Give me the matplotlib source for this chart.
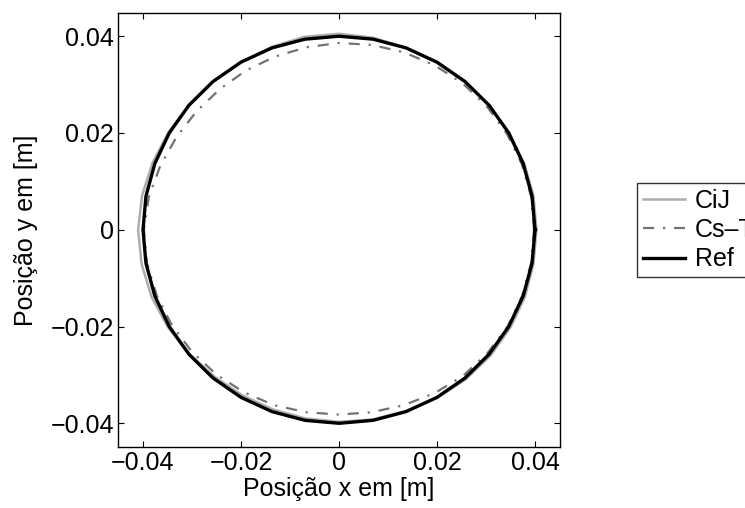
import matplotlib.pyplot as plt
import numpy as np

plt.rcParams["font.family"] = ["Liberation Sans", "DejaVu Sans"]

angle_deg = [0, 10, 20, 30, 40, 50, 60, 70, 80, 90, 100, 110,
             120, 130, 140, 150, 160, 170, 180, 190, 200, 210, 220, 230,
             240, 250, 260, 270, 280, 290, 300, 310, 320, 330, 340, 350]

# radius of each trajectory at those angles [m]
r_cij = [0.0403, 0.0403, 0.0402, 0.0401, 0.0400, 0.0399, 0.0399, 0.0400,
         0.0403, 0.0405, 0.0405, 0.0402, 0.0400, 0.0400, 0.0400, 0.0402,
         0.0405, 0.0408, 0.0410, 0.0409, 0.0407, 0.0403, 0.0399, 0.0396,
         0.0395, 0.0395, 0.0396, 0.0397, 0.0398, 0.0399, 0.0401, 0.0403,
         0.0404, 0.0404, 0.0404, 0.0403]
r_cst = [0.0398, 0.0398, 0.0397, 0.0396, 0.0395, 0.0394, 0.0392, 0.0390,
         0.0388, 0.0386, 0.0383, 0.0381, 0.0380, 0.0379, 0.0380, 0.0383,
         0.0388, 0.0394, 0.0398, 0.0398, 0.0396, 0.0394, 0.0392, 0.0390,
         0.0388, 0.0386, 0.0383, 0.0382, 0.0383, 0.0386, 0.0390, 0.0394,
         0.0396, 0.0398, 0.0398, 0.0398]
r_ref = [0.040] * len(angle_deg)

labels = ["CiJ", "Cs\u2013T", "Ref"]
tick_vals = [-0.04, -0.02, 0, 0.02, 0.04]
tick_labels = ["\u22120.04", "\u22120.02", "0", "0.02", "0.04"]


def to_xy(radii):
    th = np.deg2rad(np.append(angle_deg, angle_deg[0]))
    r = np.append(radii, radii[0])
    return r * np.cos(th), r * np.sin(th)


fig = plt.figure(figsize=(7.45, 5.08), dpi=100)
ax = fig.add_axes([118 / 745, 61 / 508, 442 / 745, 434 / 508])

x, y = to_xy(r_cij)
ax.plot(x, y, color="0.68", lw=1.8, label=labels[0])
x, y = to_xy(r_cst)
ax.plot(x, y, color="0.45", lw=1.6, ls=(0, (5, 4, 1, 4)), label=labels[1])
x, y = to_xy(r_ref)
ax.plot(x, y, color="black", lw=2.4, label=labels[2])

ax.set_xlim(-0.0451, 0.0451)
ax.set_ylim(-0.0449, 0.0448)
ax.set_xticks(tick_vals)
ax.set_yticks(tick_vals)
ax.set_xticklabels(tick_labels)
ax.set_yticklabels(tick_labels)
ax.tick_params(direction="in", top=True, right=True, labelsize=18, length=4,
               pad=3)
ax.set_xlabel("Posição x em [m]", fontsize=18, labelpad=1)
ax.set_ylabel("Posição y em [m]", fontsize=18, labelpad=9)
for s in ax.spines.values():
    s.set_linewidth(1.0)

leg = fig.legend(loc="upper left", bbox_to_anchor=(637 / 745, 1 - 183 / 508),
                 fontsize=18, frameon=True, fancybox=False, handlelength=1.7,
                 borderaxespad=0, borderpad=0.22, labelspacing=0.22,
                 handletextpad=0.4)
leg.get_frame().set_edgecolor("black")
leg.get_frame().set_linewidth(1.0)

fig.savefig("out.png", dpi=100)
